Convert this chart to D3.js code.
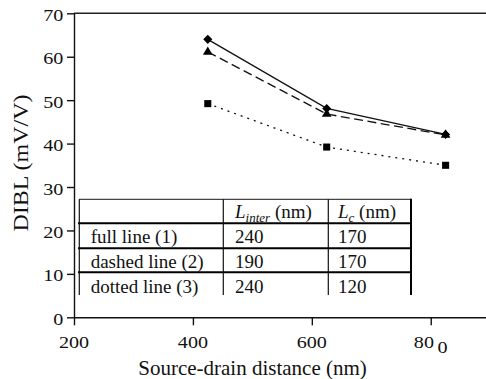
<!DOCTYPE html>
<html><head><meta charset="utf-8">
<script src="https://cdn.jsdelivr.net/npm/d3@7"></script>
</head>
<body style="margin:0;padding:0;background:#fff">
<svg id="c" width="486" height="379" style="display:block"></svg>
<script>
// ---- data ----
const distances = [425, 625, 825];
const fullLine = [64.0, 48.1, 42.1];
const dashedLine = [61.1, 46.8, 42.0];
const dottedLine = [49.2, 39.2, 35.0];
const xTicks = [200, 400, 600, 800];
const xTickLabels = ["200", "400", "600", "80"];
const yTicks = [0, 10, 20, 30, 40, 50, 60, 70];
const tableHeader = ["", "inter", "c"];
const tableRows = [
  ["full line (1)", "240", "170"],
  ["dashed line (2)", "190", "170"],
  ["dotted line (3)", "240", "120"]
];

const svg = d3.select("#c");
const x = d3.scaleLinear().domain([200, 900]).range([74, 490.2]);
const y = d3.scaleLinear().domain([0, 70]).range([317.3, 13.3]);

function T(sel, size) {
  return sel.append("text").style("font", `${size}px 'Liberation Serif'`).attr("fill", "#111");
}

// frame top line
svg.append("line").attr("x1", x(200)).attr("x2", x(900))
  .attr("y1", y(70)).attr("y2", y(70))
  .attr("stroke", "#222").attr("stroke-width", 1.4);

// axes (lines and ticks only)
const gx = svg.append("g").attr("transform", `translate(0,${y(0)})`)
  .call(d3.axisBottom(x).tickValues(xTicks).tickSize(8).tickSizeOuter(0).tickFormat(""));
const gy = svg.append("g").attr("transform", `translate(${x(200)},0)`)
  .call(d3.axisLeft(y).tickValues(yTicks).tickSize(7).tickSizeOuter(0).tickFormat(""));
[gx, gy].forEach(g => {
  g.attr("font-family", null).attr("font-size", null);
  g.selectAll("text").remove();
  g.select(".domain").attr("stroke", "#111").attr("stroke-width", 1.4);
  g.selectAll(".tick line").attr("stroke", "#111").attr("stroke-width", 1.4);
});

// y tick labels
const gyl = svg.append("g");
yTicks.forEach(d => {
  T(gyl, 16.5).attr("transform", `translate(${x(200) - 10.7},${y(d) + 7.5}) scale(1.22,1)`)
    .attr("text-anchor", "end").text(d);
});

// x tick labels
const gxl = svg.append("g");
xTicks.forEach((d, i) => {
  const t = T(gxl, 16.5).attr("transform", `translate(${x(d)},${y(0) + 30.7}) scale(1.22,1)`)
    .attr("text-anchor", "middle").text(xTickLabels[i]);
  if (d === 800) t.append("tspan").attr("dx", 3).attr("dy", 5).text("0");
});

// axis titles
T(svg, 21).attr("x", 252.5).attr("y", 375).attr("text-anchor", "middle")
  .text("Source-drain distance (nm)");
T(svg, 20).attr("transform", "translate(28,163) rotate(-90)")
  .attr("text-anchor", "middle")
  .attr("textLength", 137).attr("lengthAdjust", "spacingAndGlyphs")
  .text("DIBL (mV/V)");

// series
const series = [
  {vals: fullLine, dash: null, sym: d3.symbolSquare, size: 41, rot: 45},
  {vals: dashedLine, dash: "9,4.5", sym: d3.symbolTriangle, size: 40, rot: 0},
  {vals: dottedLine, dash: "2,5", sym: d3.symbolSquare, size: 50, rot: 0}
];
const line = d3.line().x((d, i) => x(distances[i])).y(d => y(d));
series.forEach(s => {
  svg.append("path").attr("d", line(s.vals)).attr("fill", "none")
    .attr("stroke", "#111").attr("stroke-width", 1.3)
    .attr("stroke-dasharray", s.dash);
});
series.forEach(s => {
  svg.append("g").selectAll("path").data(s.vals).join("path")
    .attr("d", d3.symbol().type(s.sym).size(s.size))
    .attr("transform", (d, i) => `translate(${x(distances[i])},${y(d)}) rotate(${s.rot})`)
    .attr("fill", "#000");
});

// table
const tbl = svg.append("g");
const tTop = 199.3, rowLines = [223.3, 248.3, 272.3], tBot = 295;
const colX = [79.3, 223.3, 328.3], tRight = 411;
tbl.append("line").attr("x1", 79).attr("x2", tRight).attr("y1", tTop).attr("y2", tTop)
  .attr("stroke", "#444").attr("stroke-width", 1.2);
rowLines.forEach(yy => tbl.append("line").attr("x1", 78).attr("x2", tRight)
  .attr("y1", yy).attr("y2", yy).attr("stroke", "#000").attr("stroke-width", 2));
colX.forEach(xx => tbl.append("line").attr("x1", xx).attr("x2", xx)
  .attr("y1", tTop).attr("y2", tBot).attr("stroke", "#111").attr("stroke-width", 1.2));
tbl.append("line").attr("x1", tRight).attr("x2", tRight).attr("y1", tTop - 0.6).attr("y2", tBot)
  .attr("stroke", "#000").attr("stroke-width", 2);

const textX = [90.7, 235, 338];
const baselines = [218, 243, 268, 293];
[1, 2].forEach(ci => {
  const t = T(tbl, 19).attr("x", textX[ci]).attr("y", baselines[0]);
  t.append("tspan").style("font-style", "italic").text("L");
  t.append("tspan").style("font-style", "italic").style("font-size", "13px").attr("dy", 4).text(tableHeader[ci]);
  t.append("tspan").attr("dy", -4).text(" (nm)");
});
tableRows.forEach((row, ri) => {
  row.forEach((cell, ci) => {
    T(tbl, 19).attr("x", textX[ci]).attr("y", baselines[ri + 1]).text(cell);
  });
});
</script>
</body></html>
